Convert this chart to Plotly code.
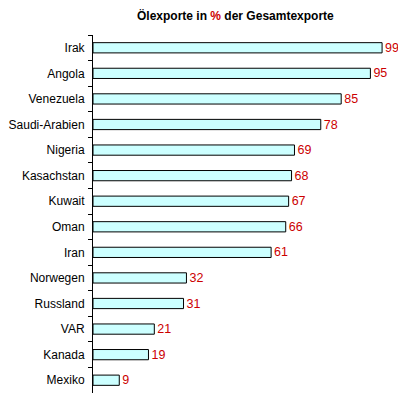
import plotly.graph_objects as go

countries = ["Irak", "Angola", "Venezuela", "Saudi-Arabien", "Nigeria", "Kasachstan",
             "Kuwait", "Oman", "Iran", "Norwegen", "Russland", "VAR", "Kanada", "Mexiko"]
values = [99, 95, 85, 78, 69, 68, 67, 66, 61, 32, 31, 21, 19, 9]

# page body has an 8px default margin, so the figure is sized/offset to compensate
W, H = 398, 387
L, R, T, B = 85, 21, 27, 2
PW, PH = W - L - R, H - T - B

fig = go.Figure(go.Bar(
    x=values, y=countries, orientation="h",
    marker=dict(color="#ccffff", line=dict(color="black", width=1)),
    text=[str(v) for v in values], textposition="outside",
    constraintext="none",
    textfont=dict(color="#cc0000", size=12.5, family="Liberation Sans, Arial"),
    cliponaxis=False,
))

fig.update_layout(
    width=W, height=H,
    margin=dict(l=L, r=R, t=T, b=B, autoexpand=False),
    paper_bgcolor="white", plot_bgcolor="white",
    bargap=0.6,
    showlegend=False,
    font=dict(family="Liberation Sans, Arial", size=12, color="black"),
    xaxis=dict(range=[0, 100], visible=False, automargin=False),
    yaxis=dict(type="category", categoryorder="array", categoryarray=countries,
               autorange="reversed", showline=True, linecolor="black", linewidth=1,
               ticks="outside", ticklen=4, tickcolor="black", tickson="boundaries",
               ticklabelstandoff=5,
               showgrid=False, tickfont=dict(size=12), automargin=False),
    annotations=[dict(
        text="<b>Ölexporte in <span style='color:#cc0000'>%</span> der Gesamtexporte</b>",
        x=(227 - L) / PW, y=(H - B - 8) / PH, xref="paper", yref="paper",
        xanchor="center", yanchor="middle", showarrow=False,
        font=dict(size=12, family="Liberation Sans, Arial"))],
)
fig.write_html("out.html")
